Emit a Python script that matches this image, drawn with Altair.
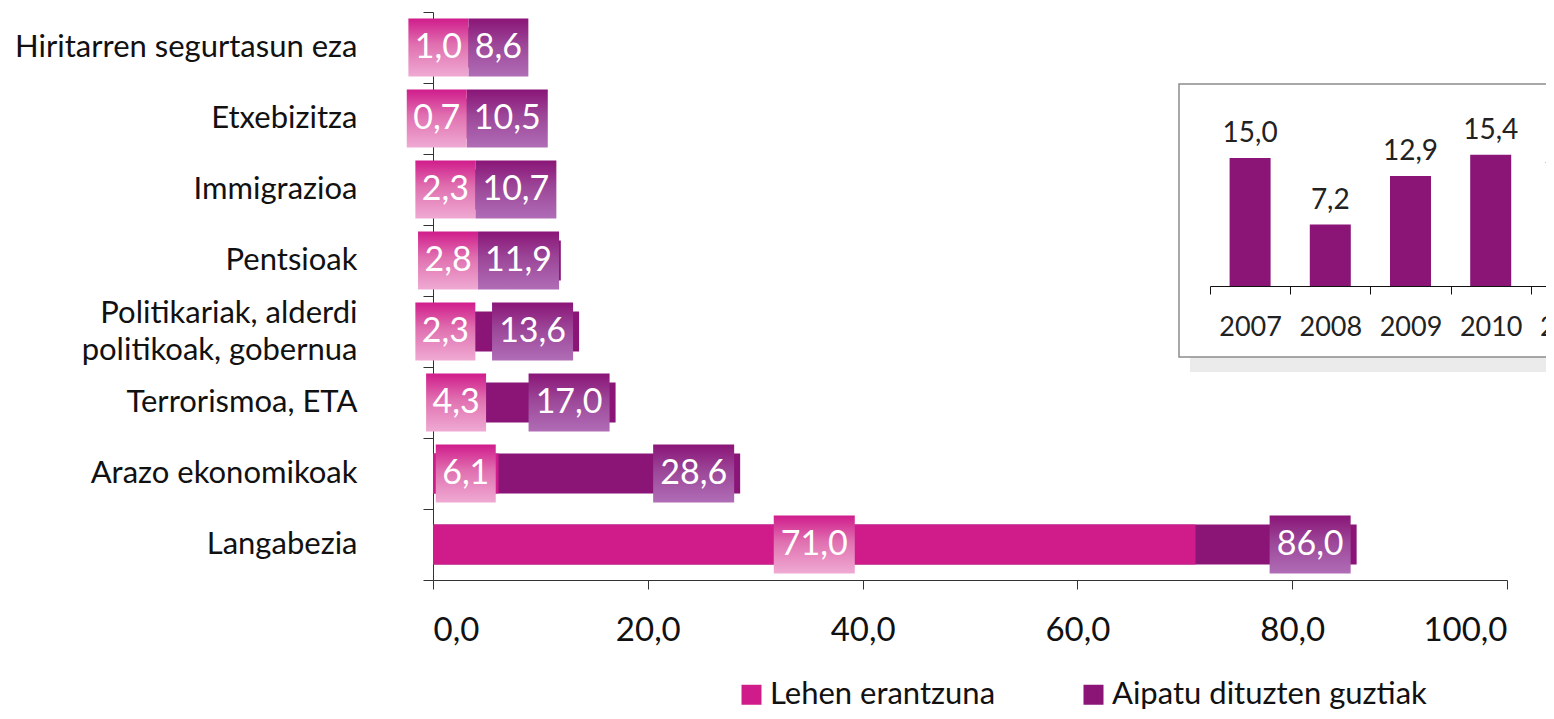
import altair as alt
import pandas as pd

# ---------------- data ----------------
categories = [
    "Hiritarren segurtasun eza",
    "Etxebizitza",
    "Immigrazioa",
    "Pentsioak",
    "Politikariak, alderdi politikoak, gobernua",
    "Terrorismoa, ETA",
    "Arazo ekonomikoak",
    "Langabezia",
]
lehen_erantzuna = [1.0, 0.7, 2.3, 2.8, 2.3, 4.3, 6.1, 71.0]
aipatu_guztiak = [8.6, 10.5, 10.7, 11.9, 13.6, 17.0, 28.6, 86.0]
series_names = ["Lehen erantzuna", "Aipatu dituzten guztiak"]
x_ticks = [0, 20, 40, 60, 80, 100]

years = ["2007", "2008", "2009", "2010", "2011"]
year_values = [15.0, 7.2, 12.9, 15.4, 10.8]

# ---------------- styles ----------------
FONT = "Lato"
MAGENTA = "#d01c8b"
PURPLE = "#8a1577"
PLOT_W = 1074
PLOT_H = 568
TWO_LINE = "Politikariak, alderdi politikoak, gobernua"

rows = []
for c, v in zip(categories, aipatu_guztiak):
    rows.append({"cat": c, "series": series_names[1], "value": v})
for c, v in zip(categories, lehen_erantzuna):
    rows.append({"cat": c, "series": series_names[0], "value": v})
df = pd.DataFrame(rows)
df_in = pd.DataFrame({"year": years, "val": year_values})

label_expr = "replace(format(datum.value, '.1f'), '.', ',')"

y_enc = alt.Y(
    "cat:N",
    sort=categories,
    scale=alt.Scale(type="band", paddingInner=0, paddingOuter=0),
    axis=alt.Axis(
        title=None,
        tickBand="extent",
        tickSize=10,
        tickColor="#333",
        domainColor="#333",
        labelPadding=66,
        labelFont=FONT,
        labelFontSize=31,
        labelColor="#111",
        labelLimit=600,
        labelLineHeight=37,
        labelOffset={"condition": {"test": f"datum.value == '{TWO_LINE}'", "value": -18}, "value": 0},
        labelExpr=f"datum.value == '{TWO_LINE}' ? ['Politikariak, alderdi', 'politikoak, gobernua'] : datum.label",
    ),
)
x_axis = alt.Axis(
    title=None,
    values=x_ticks,
    grid=False,
    tickSize=9,
    tickColor="#333",
    domainColor="#333",
    labelFont=FONT,
    labelFontSize=33,
    labelColor="#111",
    labelPadding=25,
    labelExpr=label_expr,
)
x_scale = alt.Scale(domain=[0, 100], nice=False)

# label-box half widths (px) and px per unit, for placing the value boxes
ppu = PLOT_W / 100.0
base = (
    alt.Chart(df)
    .transform_joinaggregate(first="min(value)", groupby=["cat"])
    .transform_calculate(
        label=label_expr,
        hw="length(replace(format(datum.value, '.1f'), '.', ',')) > 3 ? 40.5 : 30",
        hwm="length(replace(format(datum.first, '.1f'), '.', ',')) > 3 ? 40.5 : 30",
        len="length(replace(format(datum.value, '.1f'), '.', ',')) > 3 ? 'l' : 's'",
    )
    .transform_calculate(
        pos=f"datum.series == 'Lehen erantzuna' ? datum.value / 2 : "
        f"max(datum.value - (6 + datum.hw) / {ppu}, datum.first / 2 + (datum.hwm + datum.hw) / {ppu})"
    )
)

bars = base.mark_bar(size=40).encode(
    y=y_enc,
    x=alt.X("value:Q", stack=None, scale=x_scale, axis=x_axis),
    color=alt.Color(
        "series:N",
        scale=alt.Scale(domain=series_names, range=[MAGENTA, PURPLE]),
        legend=alt.Legend(
            title=None,
            orient="none",
            direction="horizontal",
            legendX=303,
            legendY=667,
            symbolType="square",
            symbolSize=400,
            symbolStrokeWidth=0,
            labelFont=FONT,
            labelFontSize=31,
            labelColor="#111",
            labelLimit=600,
            labelOffset=3,
            columnPadding=82,
        ),
    ),
)

path_s = "M-1.034,-1L1.034,-1L1.034,1L-1.034,1Z"
path_l = "M-1.397,-1L1.397,-1L1.397,1L-1.397,1Z"
shape_enc = alt.Shape(
    "len:N", scale=alt.Scale(domain=["s", "l"], range=[path_s, path_l]), legend=None
)

grad_mag = alt.Gradient(
    gradient="linear",
    stops=[
        alt.GradientStop(color="#d01c8b", offset=0),
        alt.GradientStop(color="#e070b0", offset=0.45),
        alt.GradientStop(color="#efaad3", offset=1),
    ],
    x1=0, x2=0, y1=0, y2=1,
)
grad_pur = alt.Gradient(
    gradient="linear",
    stops=[
        alt.GradientStop(color="#8a1577", offset=0),
        alt.GradientStop(color="#9c4698", offset=0.45),
        alt.GradientStop(color="#b06db6", offset=1),
    ],
    x1=0, x2=0, y1=0, y2=1,
)

box_mag = base.transform_filter("datum.series == 'Lehen erantzuna'").mark_point(
    filled=True, fill=grad_mag, strokeWidth=0, opacity=1, size=3364
).encode(y=y_enc, x=alt.X("pos:Q", scale=x_scale), shape=shape_enc)

box_pur = base.transform_filter("datum.series != 'Lehen erantzuna'").mark_point(
    filled=True, fill=grad_pur, strokeWidth=0, opacity=1, size=3364
).encode(y=y_enc, x=alt.X("pos:Q", scale=x_scale), shape=shape_enc)

txt_mag = base.transform_filter("datum.series == 'Lehen erantzuna'").mark_text(
    font=FONT, fontSize=34, color="white", align="center", baseline="middle"
).encode(y=y_enc, x=alt.X("pos:Q", scale=x_scale), text="label:N")

txt_pur = base.transform_filter("datum.series != 'Lehen erantzuna'").mark_text(
    font=FONT, fontSize=34, color="white", align="center", baseline="middle"
).encode(y=y_enc, x=alt.X("pos:Q", scale=x_scale), text="label:N")

main = alt.layer(bars, box_pur, box_mag, txt_pur, txt_mag)

# ---------------- inset ----------------
one = alt.Data(values=[{"k": 1}])
shadow = alt.Chart(one).mark_rect(fill="#ebebeb").encode(
    x=alt.value(757), x2=alt.value(1200), y=alt.value(345), y2=alt.value(360)
)
frame = alt.Chart(one).mark_rect(fill="white", stroke="#8c8c8c", strokeWidth=1.5).encode(
    x=alt.value(746), x2=alt.value(1200), y=alt.value(72), y2=alt.value(345)
)
in_x = alt.X(
    "year:N",
    sort=years,
    scale=alt.Scale(range=[777, 1178], paddingInner=0, paddingOuter=0),
    axis=alt.Axis(
        orient="bottom",
        offset=-294,
        zindex=2,
        title=None,
        labelAngle=0,
        tickBand="extent",
        tickSize=8,
        tickColor="#111",
        domainColor="#111",
        labelFont=FONT,
        labelFontSize=27,
        labelColor="#222",
        labelPadding=20,
    ),
)
in_y = alt.Y("val:Q", scale=alt.Scale(domain=[0, 20], range=[274, 103.4]), axis=None)
in_bars = alt.Chart(df_in).mark_bar(size=41, color=PURPLE).encode(x=in_x, y=in_y)
in_text = alt.Chart(df_in).transform_calculate(
    lab="replace(format(datum.val, '.1f'), '.', ',')"
).mark_text(font=FONT, fontSize=28, color="#222", baseline="alphabetic", dy=-16).encode(
    x=in_x, y=in_y, text="lab:N"
)

inset = alt.layer(shadow, frame, in_bars, in_text)

chart = (
    alt.layer(main, inset)
    .resolve_scale(x="independent", y="independent")
    .properties(
        width=PLOT_W,
        height=PLOT_H,
        autosize=alt.AutoSizeParams(type="none"),
        padding={"left": 425, "top": 4, "right": 39, "bottom": 131},
        background="white",
    )
    .configure_view(stroke=None)
)

chart.save("out.html", embed_options={"renderer": "svg", "actions": False})
